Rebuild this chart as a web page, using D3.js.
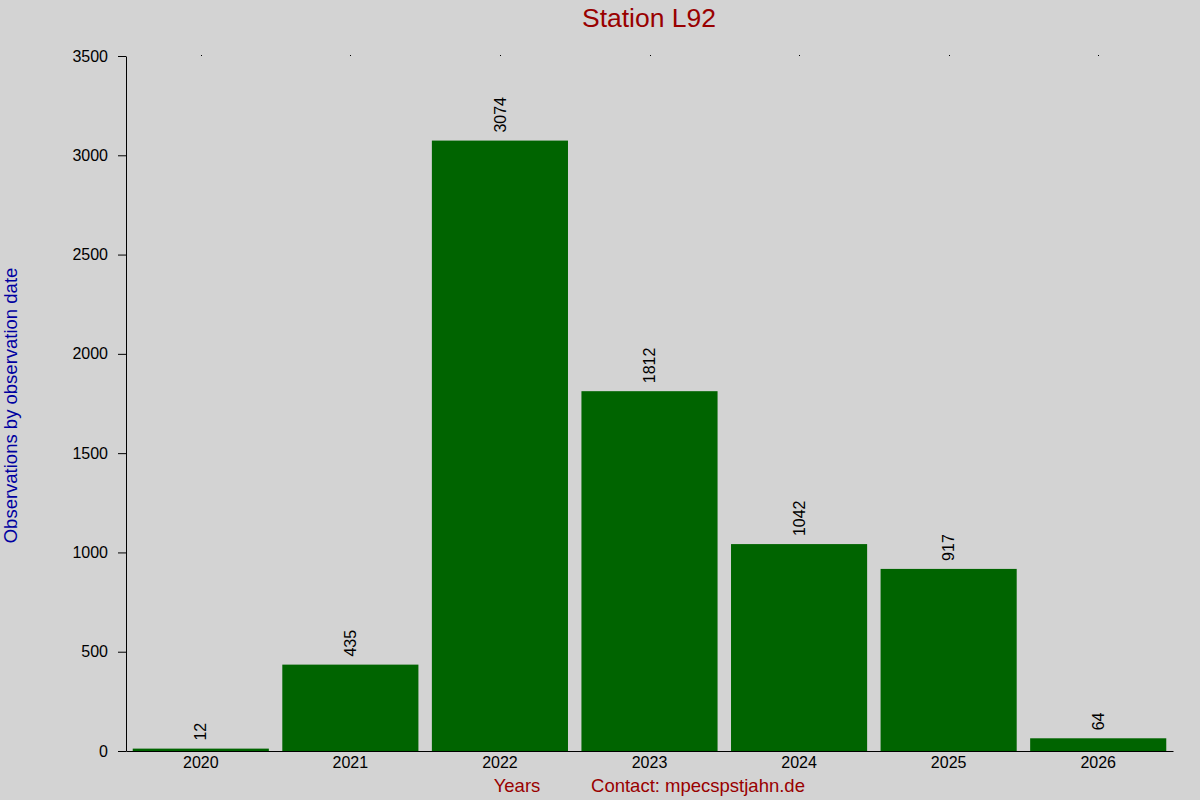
<!DOCTYPE html>
<html>
<head>
    <title>Station L92</title>
    <style>
        body { margin: 0; background: #d3d3d3; }
        svg { display: block; font-family: "Liberation Sans", Arial, sans-serif; }
    </style>
</head>
<body>
    <script src="https://d3js.org/d3.v7.min.js"></script>
    <script>
        // Observations per year
        const years = ['2020', '2021', '2022', '2023', '2024', '2025', '2026'];
        const counts = [12, 435, 3074, 1812, 1042, 917, 64];
        const yTicks = [0, 500, 1000, 1500, 2000, 2500, 3000, 3500];

        const width = 1200;
        const height = 800;
        const margin = { top: 56, right: 27, bottom: 49, left: 126 };

        const svg = d3.select('body')
            .append('svg')
            .attr('width', width)
            .attr('height', height);

        svg.append('rect')
            .attr('width', width)
            .attr('height', height)
            .attr('fill', '#d3d3d3');

        const x = d3.scaleBand()
            .domain(years)
            .range([margin.left, width - margin.right])
            .paddingInner(0.09)
            .paddingOuter(0.045);

        const y = d3.scaleLinear()
            .domain([0, 3500])
            .range([height - margin.bottom, margin.top]);

        // bars
        svg.selectAll('rect.bar')
            .data(years)
            .enter()
            .append('rect')
            .attr('class', 'bar')
            .attr('x', d => x(d))
            .attr('width', x.bandwidth())
            .attr('y', (d, i) => y(counts[i]))
            .attr('height', (d, i) => y(0) - y(counts[i]))
            .attr('fill', '#006400');

        // value labels, rotated
        svg.selectAll('text.val')
            .data(years)
            .enter()
            .append('text')
            .attr('class', 'val')
            .attr('transform', (d, i) => `translate(${x(d) + x.bandwidth() / 2},${y(counts[i]) - 8}) rotate(-90)`)
            .attr('dy', '0.35em')
            .attr('font-size', 16)
            .attr('fill', '#000')
            .text((d, i) => counts[i]);

        // y axis
        const yAxis = svg.append('g')
            .attr('transform', `translate(${margin.left},0)`)
            .call(d3.axisLeft(y).tickValues(yTicks).tickFormat(d3.format('d'))
                .tickSize(8).tickSizeOuter(0).tickPadding(10));
        yAxis.attr('font-size', 16).attr('font-family', null);
        yAxis.selectAll('text').attr('fill', '#000');
        yAxis.select('.domain').attr('stroke', '#000');

        // x axis
        const xAxis = svg.append('g')
            .attr('transform', `translate(0,${y(0)})`)
            .call(d3.axisBottom(x).tickSize(0).tickSizeOuter(0).tickPadding(6));
        xAxis.attr('font-size', 16).attr('font-family', null);
        xAxis.selectAll('text').attr('fill', '#000');
        xAxis.select('.domain').attr('stroke', '#000');

        // tiny top tick dots
        svg.selectAll('rect.dot')
            .data(years)
            .enter()
            .append('rect')
            .attr('class', 'dot')
            .attr('x', d => Math.round(x(d) + x.bandwidth() / 2))
            .attr('y', margin.top - 1)
            .attr('width', 1)
            .attr('height', 1)
            .attr('fill', '#000');

        // title
        svg.append('text')
            .attr('x', 649)
            .attr('y', 27)
            .attr('text-anchor', 'middle')
            .attr('font-size', 26.5)
            .attr('fill', '#990000')
            .text('Station L92');

        // y label
        svg.append('text')
            .attr('transform', `translate(17,${(margin.top + height - margin.bottom) / 2 + 2}) rotate(-90)`)
            .attr('text-anchor', 'middle')
            .attr('font-size', 18.5)
            .attr('fill', '#0000a0')
            .text('Observations by observation date');

        // x label and contact
        svg.append('text')
            .attr('x', 517)
            .attr('y', 792)
            .attr('text-anchor', 'middle')
            .attr('font-size', 18.5)
            .attr('fill', '#990000')
            .text('Years');

        svg.append('text')
            .attr('x', 698)
            .attr('y', 792)
            .attr('text-anchor', 'middle')
            .attr('font-size', 18.5)
            .attr('fill', '#990000')
            .text('Contact: mpecspstjahn.de');
    </script>
</body>
</html>
